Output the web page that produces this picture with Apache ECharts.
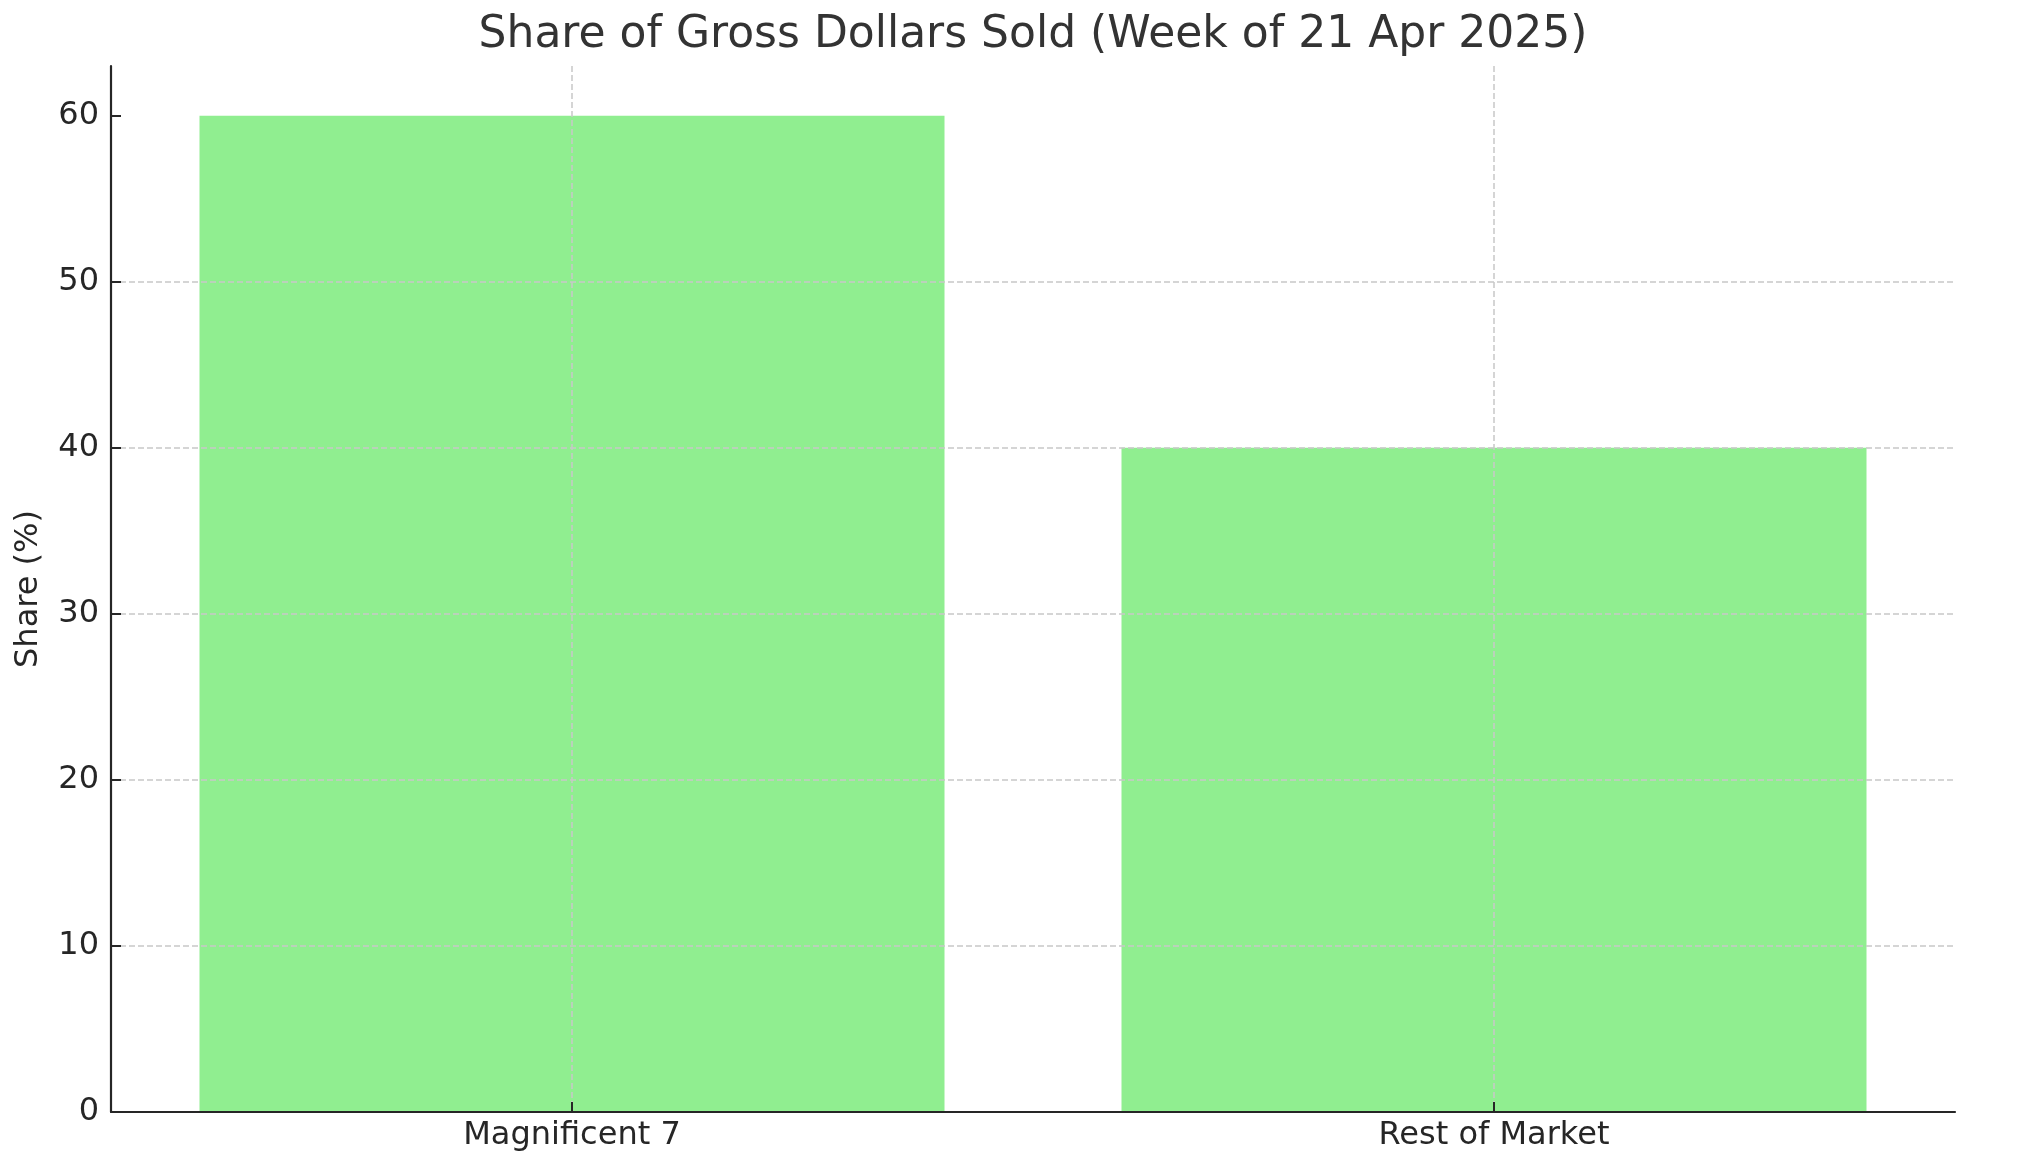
<!DOCTYPE html>
<html>
<head>
<meta charset="UTF-8">
<title>Share of Gross Dollars Sold</title>
<script src="https://cdn.jsdelivr.net/npm/echarts@6/dist/echarts.min.js"></script>
<style>
html, body { margin: 0; padding: 0; background: #fff; }
#chart { width: 2023px; height: 1167px; }
</style>
</head>
<body>
<div id="chart"></div>
<script type="text/javascript">
// data
var categories = ['Magnificent 7', 'Rest of Market'];
var shares = [60, 40];
var yTicks = [0, 10, 20, 30, 40, 50, 60];
var yMax = 63;

var myChart = echarts.init(document.getElementById('chart'));

var font = 'DejaVu Sans';
var gridStyle = { color: '#c8c8c8', width: 1.5, type: [6, 3] };

var option = {
	backgroundColor: '#ffffff',
	animation: false,
	textStyle: { fontFamily: font },
	title: {
		text: 'Share of Gross Dollars Sold (Week of 21 Apr 2025)',
		left: 1028,
		top: 9,
		textAlign: 'center',
		textStyle: { fontFamily: font, fontSize: 44, fontWeight: 'normal', color: '#333333' }
	},
	grid: { left: 111, right: 68, top: 66, bottom: 55 },
	// axes above the bars so the dashed grid shows through them
	xAxis: {
		type: 'category',
		z: 5,
		data: categories,
		axisLine: { show: true, lineStyle: { color: '#262626', width: 2.2 } },
		axisTick: { show: true, inside: true, length: 10, alignWithLabel: true, lineStyle: { color: '#262626', width: 2 } },
		axisLabel: { margin: 8, fontSize: 32, color: '#262626', fontFamily: font, interval: 0 },
		splitLine: { show: true, interval: 0, alignWithLabel: true, lineStyle: gridStyle }
	},
	yAxis: {
		type: 'value',
		z: 5,
		min: 0,
		max: yMax,
		interval: 10,
		name: 'Share (%)',
		nameLocation: 'middle',
		nameGap: 66,
		nameTextStyle: { fontSize: 32, color: '#262626', fontFamily: font },
		axisLine: { show: true, lineStyle: { color: '#262626', width: 2.2 } },
		axisTick: { show: true, inside: true, length: 10, customValues: yTicks, lineStyle: { color: '#262626', width: 2 } },
		axisLabel: { margin: 12, fontSize: 32, color: '#262626', fontFamily: font, customValues: yTicks },
		splitLine: { show: true, showMinLine: false, showMaxLine: false, lineStyle: gridStyle }
	},
	series: [{
		type: 'bar',
		z: 1,
		data: shares,
		barWidth: 745,
		itemStyle: { color: '#90ee90' }
	}]
};
myChart.setOption(option);
</script>
</body>
</html>
